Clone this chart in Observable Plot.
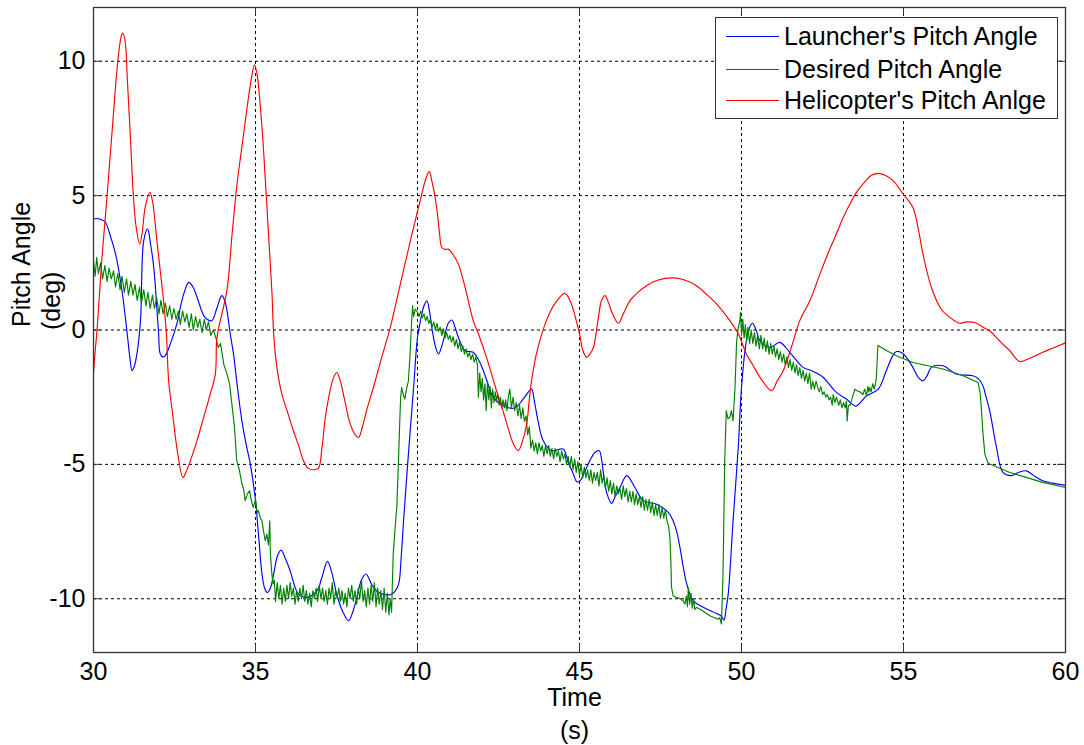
<!DOCTYPE html>
<html>
<head>
<meta charset="utf-8">
<script src="https://cdn.jsdelivr.net/npm/d3@7"></script>
<script src="https://cdn.jsdelivr.net/npm/@observablehq/plot@0.6"></script>
<style>
  html, body { margin: 0; padding: 0; background: #fff; }
  #wrap { position: relative; width: 1084px; height: 745px; font-family: "Liberation Sans", Arial, sans-serif; }
  #legend { position: absolute; left: 715px; top: 17px; width: 343px; height: 102px; box-sizing: border-box;
            border: 1.3px solid #333; background: #fff; }
  .row { position: absolute; left: 0; height: 30px; display: flex; align-items: center; }
  .swatch { margin-left: 10px; width: 53px; height: 0; border-top: 1.3px solid; }
  .lab { margin-left: 5px; font-size: 25px; color: #000; white-space: nowrap; }
</style>
</head>
<body>
<div id="wrap"></div>
<script>
// ---- data (time in s, pitch angle in deg) ----
const seriesNames = ["Launcher's Pitch Angle", "Desired Pitch Angle", "Helicopter's Pitch Anlge"];
const seriesColors = ["#0000ff", "#008000", "#ff0000"];
const xTicks = [30, 35, 40, 45, 50, 55, 60];
const yTicks = [-10, -5, 0, 5, 10];

const launcherPitch = [
 [30,4.13],[30.12,4.15],[30.25,4.1],[30.37,4.0],[30.52,3.5],[30.68,2.83],[30.88,1.46],[31.04,-0.14],[31.12,-1.0],[31.19,-1.51],
 [31.26,-1.35],[31.34,-0.89],[31.45,0.35],[31.55,3.32],[31.67,3.76],[31.76,3.2],[31.86,2.33],[31.95,0.9],[32.01,-0.14],[32.06,-0.89],
 [32.14,-1.0],[32.21,-0.96],[32.37,-0.52],[32.6,0.35],[32.68,0.84],[32.8,1.4],[32.94,1.77],[33.07,1.6],[33.2,1.21],[33.44,0.47],
 [33.65,0.35],[33.8,0.78],[33.96,1.28],[34.05,1.1],[34.12,0.72],[34.22,-0.14],[34.32,-0.89],[34.45,-2.2],[34.58,-3.38],[34.72,-4.3],
 [34.84,-4.99],[34.99,-6.23],[35.1,-7.72],[35.2,-9.08],[35.28,-9.6],[35.36,-9.77],[35.46,-9.6],[35.56,-9.08],[35.68,-8.4],[35.79,-8.19],
 [35.92,-8.5],[36.07,-8.96],[36.2,-9.5],[36.33,-9.83],[36.59,-9.95],[36.9,-9.7],[37.05,-9.2],[37.22,-8.61],[37.35,-9.0],[37.51,-9.85],
 [37.7,-10.5],[37.87,-10.82],[38.0,-10.5],[38.13,-9.95],[38.27,-9.3],[38.41,-9.08],[38.6,-9.5],[38.8,-9.77],[39.0,-9.85],[39.21,-9.83],
 [39.32,-9.7],[39.42,-9.45],[39.5,-8.4],[39.57,-7.1],[39.72,-4.61],[39.88,-2.13],[40.0,-0.27],[40.1,0.4],[40.2,0.9],[40.29,1.09],
 [40.37,0.7],[40.44,0.1],[40.55,-0.6],[40.65,-0.89],[40.75,-0.6],[40.85,-0.15],[40.95,0.25],[41.06,0.37],[41.16,0.1],[41.26,-0.27],
 [41.47,-0.77],[41.72,-0.83],[41.88,-1.1],[42.03,-1.51],[42.2,-2.1],[42.34,-2.51],[42.64,-2.82],[43.0,-2.9],[43.26,-2.57],[43.52,-2.2],
 [43.6,-2.6],[43.72,-3.38],[43.88,-4.12],[44.14,-4.49],[44.35,-4.45],[44.5,-4.43],[44.65,-4.9],[44.81,-5.36],[44.92,-5.65],[45.02,-5.61],
 [45.15,-5.3],[45.32,-4.86],[45.48,-4.55],[45.61,-4.49],[45.68,-4.8],[45.74,-5.36],[45.85,-6.1],[45.99,-6.45],[46.1,-6.2],[46.25,-5.86],
 [46.46,-5.42],[46.71,-5.86],[46.97,-6.35],[47.38,-6.48],[47.74,-6.79],[47.89,-7.1],[48.0,-7.5],[48.1,-8.09],[48.2,-8.8],[48.31,-9.45],
 [48.51,-10.07],[48.82,-10.32],[49.23,-10.55],[49.38,-10.65],[49.46,-10.79],[49.52,-10.4],[49.59,-9.83],[49.74,-7.1],[49.9,-4.37],[50.0,-2.14],
 [50.15,-0.4],[50.25,0.1],[50.34,0.25],[50.45,0.0],[50.57,-0.4],[50.88,-0.65],[51.18,-0.46],[51.49,-0.83],[51.9,-1.39],[52.11,-1.49],
 [52.37,-1.64],[52.52,-1.76],[52.93,-2.32],[53.24,-2.57],[53.53,-2.83],[53.86,-2.45],[54.22,-2.2],[54.47,-1.51],[54.65,-1.0],[54.78,-0.8],
 [54.95,-0.85],[55.09,-1.02],[55.29,-1.39],[55.45,-1.75],[55.6,-1.89],[55.73,-1.7],[55.86,-1.39],[56.22,-1.33],[56.63,-1.64],[57.14,-1.7],
 [57.3,-1.8],[57.45,-2.07],[57.55,-2.5],[57.66,-3.0],[57.87,-4.37],[58.07,-5.3],[58.33,-5.42],[58.55,-5.3],[58.79,-5.24],[59.0,-5.4],
 [59.3,-5.61],[59.6,-5.7],[60.0,-5.78]
];

const desiredPitch = [
 [30.00,2.6],[30.05,2.0],[30.10,2.7],[30.15,2.1],[30.22,2.5],[30.28,1.9],[30.35,2.4],[30.42,1.8],[30.48,2.3],[30.55,1.9],
 [30.62,2.2],[30.68,1.6],[30.75,2.1],[30.82,1.5],[30.88,2.0],[30.95,1.4],[31.02,1.9],[31.08,1.3],[31.15,1.8],[31.22,1.3],
 [31.28,1.7],[31.35,1.1],[31.42,1.6],[31.48,1.0],[31.55,1.5],[31.62,0.9],[31.68,1.4],[31.75,0.8],[31.82,1.3],[31.88,0.8],
 [31.95,1.2],[32.02,0.6],[32.08,1.1],[32.15,0.6],[32.22,1.0],[32.28,0.5],[32.35,0.9],[32.42,0.4],[32.48,0.8],[32.55,0.4],
 [32.62,0.7],[32.68,0.2],[32.75,0.7],[32.82,0.3],[32.88,0.6],[32.95,0.1],[33.02,0.6],[33.08,0.0],[33.15,0.5],[33.22,0.1],
 [33.28,0.4],[33.35,-0.1],[33.42,0.4],[33.48,0.0],[33.55,0.3],[33.62,-0.2],[33.70,0.0],
 [33.78,-0.3],[33.85,-0.65],[33.92,-0.5],[34.02,-1.27],[34.12,-1.64],[34.2,-2.0],[34.27,-2.75],[34.35,-3.6],[34.42,-4.86],[34.5,-5.2],
 [34.58,-5.73],[34.63,-5.9],[34.68,-6.35],[34.75,-6.1],[34.82,-5.98],[34.88,-6.4],[34.93,-6.6],[35.0,-6.3],[35.05,-6.8],[35.09,-6.72],
 [35.15,-7.0],[35.2,-7.1],[35.25,-7.5],[35.3,-7.84],[35.35,-7.6],[35.4,-8.0],[35.44,-7.1],[35.46,-8.34],[35.5,-9.0],[35.54,-9.45],
 [35.58,-9.3],[35.62,-10.1],[35.67,-9.4],[35.72,-10.0],[35.77,-9.5],[35.82,-10.2],[35.87,-9.6],[35.92,-10.1],[35.97,-9.5],[36.02,-10.0],
 [36.07,-9.4],[36.12,-9.9],[36.17,-9.6],[36.22,-10.2],[36.27,-9.7],[36.32,-10.1],[36.37,-9.6],[36.42,-10.0],[36.47,-9.5],[36.52,-10.1],
 [36.57,-9.7],[36.62,-10.2],[36.67,-9.8],[36.72,-10.3],[36.77,-9.7],[36.82,-10.0],[36.87,-9.6],[36.92,-10.1],[36.97,-9.5],[37.02,-10.0],
 [37.07,-9.6],[37.12,-10.1],[37.17,-9.7],[37.22,-10.2],[37.27,-9.6],[37.32,-10.0],[37.37,-9.4],[37.42,-10.2],[37.47,-9.7],[37.52,-10.0],
 [37.57,-9.6],[37.62,-10.1],[37.67,-9.7],[37.72,-10.2],[37.77,-9.8],[37.82,-10.3],[37.87,-9.6],[37.92,-10.0],[37.97,-9.5],[38.02,-10.1],
 [38.07,-9.7],[38.12,-10.2],[38.17,-9.6],[38.22,-10.0],[38.27,-9.3],[38.32,-10.1],[38.37,-9.7],[38.42,-10.3],[38.47,-9.6],[38.52,-10.2],
 [38.57,-9.5],[38.62,-10.1],[38.67,-9.4],[38.72,-10.3],[38.77,-9.6],[38.82,-10.2],[38.87,-9.7],[38.92,-10.4],[38.97,-9.6],[39.02,-10.5],
 [39.07,-9.8],[39.12,-10.6],[39.16,-10.0],[39.2,-10.5],
 [39.25,-8.34],[39.3,-7.5],[39.36,-6.6],[39.41,-4.99],[39.45,-3.5],[39.48,-2.51],[39.51,-2.14],[39.56,-2.4],[39.61,-2.57],[39.66,-2.2],
 [39.72,-1.89],[39.77,-0.89],[39.82,0.35],[39.85,0.9],[39.88,0.5],[39.93,0.78],[40.0,0.66],
 [40.05,0.5],[40.1,0.7],[40.15,0.45],[40.2,0.6],[40.25,0.35],[40.3,0.5],[40.35,0.25],[40.4,0.4],[40.45,0.1],[40.5,0.3],
 [40.55,0.0],[40.6,0.25],[40.65,-0.05],[40.7,0.1],[40.75,-0.2],[40.8,0.05],[40.85,-0.3],[40.9,-0.1],[40.95,-0.35],[41.0,-0.2],
 [41.05,-0.45],[41.1,-0.25],[41.15,-0.6],[41.2,-0.35],[41.25,-0.7],[41.3,-0.45],[41.35,-0.8],[41.4,-0.6],[41.45,-0.9],[41.5,-0.7],
 [41.55,-1.0],[41.6,-0.85],[41.65,-1.1],[41.7,-0.9],[41.75,-1.2],[41.8,-1.0],[41.85,-1.3],
 [41.88,-2.5],[41.92,-1.6],[41.96,-2.3],[42.0,-1.8],[42.04,-2.6],[42.08,-2.0],[42.12,-3.0],[42.16,-1.9],[42.2,-2.6],[42.24,-2.1],
 [42.28,-2.9],[42.32,-2.2],[42.36,-2.7],[42.4,-2.3],[42.44,-2.6],[42.48,-2.4],[42.52,-2.8],[42.56,-2.5],[42.6,-2.9],[42.64,-2.6],
 [42.68,-2.9],[42.72,-2.6],[42.76,-3.0],[42.8,-2.5],[42.85,-2.2],[42.9,-2.9],[42.95,-2.5],[43.0,-3.0],[43.05,-2.7],[43.1,-3.2],
 [43.15,-2.8],[43.2,-3.3],[43.25,-2.9],[43.3,-3.4],[43.35,-3.2],[43.4,-3.9],[43.45,-3.6],[43.5,-4.4],
 [43.55,-4.1],[43.6,-4.5],[43.65,-4.2],[43.7,-4.6],[43.75,-4.2],[43.8,-4.5],[43.85,-4.3],[43.9,-4.7],[43.95,-4.3],[44.0,-4.6],
 [44.05,-4.3],[44.1,-4.7],[44.15,-4.4],[44.2,-4.8],[44.25,-4.4],[44.3,-4.7],[44.35,-4.5],[44.4,-4.9],[44.45,-4.5],[44.5,-4.8],
 [44.55,-4.6],[44.6,-5.0],[44.65,-4.7],[44.7,-5.1],
 [44.75,-4.7],[44.8,-5.2],[44.85,-4.8],[44.9,-5.3],[44.95,-4.9],[45.0,-5.4],[45.05,-5.0],[45.1,-5.5],[45.15,-5.1],[45.2,-5.5],
 [45.25,-5.2],[45.3,-5.6],[45.35,-5.2],[45.4,-5.7],[45.45,-5.3],[45.5,-5.6],[45.55,-5.3],[45.6,-5.8],[45.65,-5.2],[45.7,-5.7],
 [45.75,-5.4],[45.8,-5.9],[45.85,-5.5],[45.9,-6.0],[45.95,-5.6],[46.0,-6.1],[46.05,-5.7],[46.1,-6.2],[46.15,-5.8],[46.2,-6.1],
 [46.25,-5.9],[46.3,-6.3],[46.35,-5.8],[46.4,-6.2],[46.45,-5.9],[46.5,-6.4],[46.55,-6.0],[46.6,-6.4],[46.65,-6.0],[46.7,-6.5],
 [46.75,-6.1],[46.8,-6.5],[46.85,-6.2],[46.9,-6.6],[46.95,-6.2],[47.0,-6.7],[47.05,-6.3],[47.1,-6.7],[47.15,-6.3],[47.2,-6.8],
 [47.25,-6.4],[47.3,-6.9],[47.35,-6.5],[47.4,-6.9],[47.45,-6.5],[47.5,-7.0],[47.55,-6.6],[47.6,-7.0],[47.65,-6.7],[47.7,-7.1],
 [47.75,-7.3],[47.79,-7.72],[47.82,-8.6],[47.84,-9.58],[47.89,-9.89],[48.0,-9.95],[48.1,-10.0],[48.2,-10.07],[48.25,-10.2],[48.3,-9.9],
 [48.33,-10.3],[48.36,-9.58],[48.4,-10.2],[48.44,-9.8],[48.48,-10.35],[48.52,-10.0],[48.56,-10.4],[48.61,-10.32],[48.8,-10.45],[49.02,-10.63],
 [49.28,-10.76],[49.33,-10.7],[49.38,-10.94],[49.43,-9.08],[49.48,-4.99],[49.53,-3.0],[49.58,-3.3],[49.64,-3.25],[49.69,-3.0],[49.74,-3.38],
 [49.8,-2.14],[49.85,-0.4],[49.9,0.1],[49.95,0.35],[49.97,0.66],
 [50.0,-0.2],[50.04,0.4],[50.08,-0.3],[50.12,0.2],[50.16,-0.4],[50.2,0.1],[50.25,-0.5],[50.3,0.0],[50.35,-0.5],[50.4,-0.1],
 [50.45,-0.6],[50.5,-0.2],[50.55,-0.7],[50.6,-0.2],[50.65,-0.7],[50.7,-0.3],[50.75,-0.8],[50.8,-0.4],[50.85,-0.9],[50.9,-0.5],
 [50.95,-0.9],[51.0,-0.6],[51.05,-1.0],[51.1,-0.7],[51.15,-1.1],[51.2,-0.8],[51.25,-1.2],[51.3,-0.9],[51.35,-1.3],[51.4,-1.0],
 [51.45,-1.4],[51.5,-1.1],[51.55,-1.5],[51.6,-1.2],[51.65,-1.6],[51.7,-1.3],[51.75,-1.7],[51.8,-1.4],[51.85,-1.8],[51.9,-1.5],
 [51.95,-1.9],[52.0,-1.6],[52.05,-2.0],[52.1,-1.6],[52.15,-2.2],[52.2,-1.9],[52.25,-2.2],[52.3,-1.9],[52.37,-2.2],
 [52.4,-2.3],[52.45,-2.1],[52.5,-2.4],[52.55,-2.3],[52.6,-2.5],[52.65,-2.4],[52.7,-2.6],[52.75,-2.5],[52.8,-2.8],[52.83,-2.4],
 [52.88,-2.7],[52.93,-2.5],[53.0,-2.8],[53.05,-2.6],[53.1,-2.9],[53.15,-2.7],[53.2,-2.9],[53.24,-2.65],[53.26,-3.38],[53.3,-2.8],
 [53.35,-2.8],[53.4,-2.6],[53.45,-2.4],[53.5,-2.2],[53.55,-2.25],[53.65,-2.3],[53.75,-2.4],[53.8,-2.2],[53.86,-2.45],[53.9,-2.1],
 [53.93,-2.3],[53.96,-2.14],[54.0,-2.3],[54.05,-2.0],[54.1,-2.2],[54.16,-1.82],[54.21,-0.58],
 [54.5,-0.78],[54.78,-0.96],[55.29,-1.21],[56.22,-1.45],[56.84,-1.7],[57.3,-1.95],[57.36,-2.3],[57.4,-2.88],[57.45,-3.8],[57.51,-4.61],
 [57.61,-4.96],[58.28,-5.3],[59.3,-5.67],[60.0,-5.86]
];

const helicopterPitch = [
 [30,-1.6],[30.05,-0.8],[30.11,0],[30.25,2.5],[30.42,5],[30.6,7.8],[30.75,10],[30.85,10.9],[30.9,11.05],[30.97,10.8],
 [31.05,9.2],[31.15,6.9],[31.23,5],[31.32,3.8],[31.43,3.2],[31.5,3.6],[31.6,4.6],[31.74,5.12],[31.82,4.8],[31.95,3.4],
 [32.07,2.1],[32.17,1.0],[32.25,-0.14],[32.32,-1.9],[32.45,-3.2],[32.6,-4.6],[32.76,-5.49],[32.85,-5.3],[32.99,-4.87],[33.2,-4.1],
 [33.4,-3.25],[33.6,-2.4],[33.76,-1.64],[33.8,-0.4],[33.85,0.0],[34.12,1.5],[34.28,3.6],[34.43,5.43],[34.6,7.0],[34.74,8.28],
 [34.88,9.4],[34.97,9.87],[35.05,9.5],[35.15,8.3],[35.25,6.67],[35.38,4.0],[35.51,1.34],[35.56,-0.14],[35.65,-1.3],[35.81,-2.37],
 [36.0,-3.1],[36.17,-3.75],[36.33,-4.3],[36.48,-4.86],[36.63,-5.15],[36.8,-5.2],[36.94,-5.15],[37.05,-4.4],[37.15,-3.3],[37.26,-2.51],
 [37.4,-1.8],[37.51,-1.58],[37.62,-1.9],[37.75,-2.6],[37.9,-3.4],[38.05,-3.85],[38.18,-4.0],[38.3,-3.6],[38.45,-2.9],[38.64,-2.13],
 [38.9,-1.0],[39.16,0.1],[39.47,1.71],[39.7,2.9],[39.93,4.07],[40.1,4.9],[40.25,5.6],[40.36,5.9],[40.45,5.5],[40.59,4.56],
 [40.68,3.6],[40.75,3.07],[40.85,3.0],[40.95,3.01],[41.1,2.8],[41.26,2.46],[41.4,1.9],[41.52,1.34],[41.72,0.35],[41.88,-0.14],
 [42.13,-1.02],[42.44,-2.26],[42.7,-3.25],[42.96,-4.24],[43.11,-4.49],[43.25,-4.1],[43.37,-3.5],[43.45,-2.6],[43.52,-1.89],[43.67,-0.89],
 [43.98,0.35],[44.25,1.0],[44.55,1.36],[44.71,1.09],[45.0,-0.14],[45.1,-0.75],[45.22,-1.02],[45.32,-0.9],[45.43,-0.65],[45.57,0.35],
 [45.68,1.1],[45.79,1.28],[45.9,1.0],[46.0,0.66],[46.2,0.25],[46.35,0.6],[46.56,1.09],[46.8,1.4],[47.07,1.65],[47.4,1.85],
 [47.89,1.94],[48.2,1.88],[48.61,1.65],[48.9,1.35],[49.23,0.97],[49.64,0.35],[49.9,-0.14],[50.15,-0.89],[50.35,-1.3],[50.57,-1.76],
 [50.93,-2.26],[51.1,-1.9],[51.29,-1.51],[51.55,-0.6],[51.8,0.35],[52.11,1.09],[52.42,2.08],[52.62,2.7],[52.9,3.5],[53.14,4.19],
 [53.35,4.7],[53.55,5.12],[53.8,5.5],[54.0,5.75],[54.22,5.83],[54.45,5.75],[54.68,5.56],[54.99,5.06],[55.29,4.56],[55.45,3.8],
 [55.6,2.83],[55.86,1.59],[56.16,0.78],[56.45,0.45],[56.73,0.25],[56.95,0.3],[57.19,0.28],[57.55,0.04],[57.66,-0.03],[58.0,-0.45],
 [58.28,-0.77],[58.58,-1.17],[58.9,-1.05],[59.3,-0.83],[59.6,-0.68],[60.0,-0.48]
];

// ---- build tables ----
const toRows = (pts, i) => pts.map(([t, v]) => ({t, v, series: seriesNames[i]}));
const launcherRows = toRows(launcherPitch, 0);
const desiredRows = toRows(desiredPitch, 1);
const heliRows = toRows(helicopterPitch, 2);

const W = 1084, H = 745, mL = 93, mR = 19, mT = 7, mB = 93;
const frameW = W - mL - mR, frameH = H - mT - mB, tickLen = 8;
const gridXTicks = xTicks.filter(d => d !== 30 && d !== 60);
const axisColor = "#333";
const lw = 1.15;

const chart = Plot.plot({
  width: W, height: H,
  marginLeft: mL, marginRight: mR, marginTop: mT, marginBottom: mB,
  x: {domain: [30, 60], axis: null},
  y: {domain: [-12, 12], axis: null},
  color: {domain: seriesNames, range: seriesColors},
  style: {fontFamily: "'Liberation Sans', Arial, sans-serif", color: "#000", background: "#fff", overflow: "visible"},
  marks: [
    Plot.gridX(gridXTicks, {stroke: "#000", strokeOpacity: 1, strokeDasharray: "3,3", strokeWidth: 1}),
    Plot.gridY(yTicks, {stroke: "#000", strokeOpacity: 1, strokeDasharray: "3,3", strokeWidth: 1}),
    Plot.line(launcherRows, {x: "t", y: "v", stroke: "series", strokeWidth: lw, curve: "catmull-rom"}),
    Plot.line(desiredRows, {x: "t", y: "v", stroke: "series", strokeWidth: lw, curve: "linear"}),
    Plot.line(heliRows, {x: "t", y: "v", stroke: "series", strokeWidth: lw, curve: "catmull-rom"}),
    Plot.tickX(xTicks, {x: d => d, insetTop: frameH - tickLen, stroke: axisColor}),
    Plot.tickX(xTicks, {x: d => d, insetBottom: frameH - tickLen, stroke: axisColor}),
    Plot.tickY(yTicks, {y: d => d, insetRight: frameW - tickLen, stroke: axisColor}),
    Plot.tickY(yTicks, {y: d => d, insetLeft: frameW - tickLen, stroke: axisColor}),
    Plot.frame({stroke: axisColor, strokeWidth: 1.3}),
    Plot.axisX(xTicks, {tickSize: 0, tickPadding: 10, fontSize: 25, label: null, tickFormat: d => String(d)}),
    Plot.axisY(yTicks, {tickSize: 0, tickPadding: 8, fontSize: 25, label: null, tickFormat: d => String(d)}),
    Plot.text(["Time"], {frameAnchor: "bottom", dx: -5, dy: 45, fontSize: 25, lineAnchor: "middle", fill: "#000"}),
    Plot.text(["(s)"], {frameAnchor: "bottom", dx: -5, dy: 78, fontSize: 25, lineAnchor: "middle", fill: "#000"}),
    Plot.text(["Pitch Angle"], {frameAnchor: "left", dx: -72, dy: -3, rotate: -90, fontSize: 25, lineAnchor: "middle", fill: "#000"}),
    Plot.text(["(deg)"], {frameAnchor: "left", dx: -42, dy: 0, rotate: -90, fontSize: 25, lineAnchor: "middle", fill: "#000"})
  ]
});

const wrap = document.getElementById("wrap");
wrap.appendChild(chart);

// legend (boxed, upper right)
const legend = document.createElement("div");
legend.id = "legend";
const rowCenters = [19, 52.5, 83.5];
seriesNames.forEach((name, i) => {
  const row = document.createElement("div");
  row.className = "row";
  row.style.top = (rowCenters[i] - 15 - 1) + "px";
  const sw = document.createElement("div");
  sw.className = "swatch";
  sw.style.borderTopColor = seriesColors[i];
  const lab = document.createElement("span");
  lab.className = "lab";
  lab.textContent = name;
  row.appendChild(sw); row.appendChild(lab);
  legend.appendChild(row);
});
wrap.appendChild(legend);
</script>
</body>
</html>
